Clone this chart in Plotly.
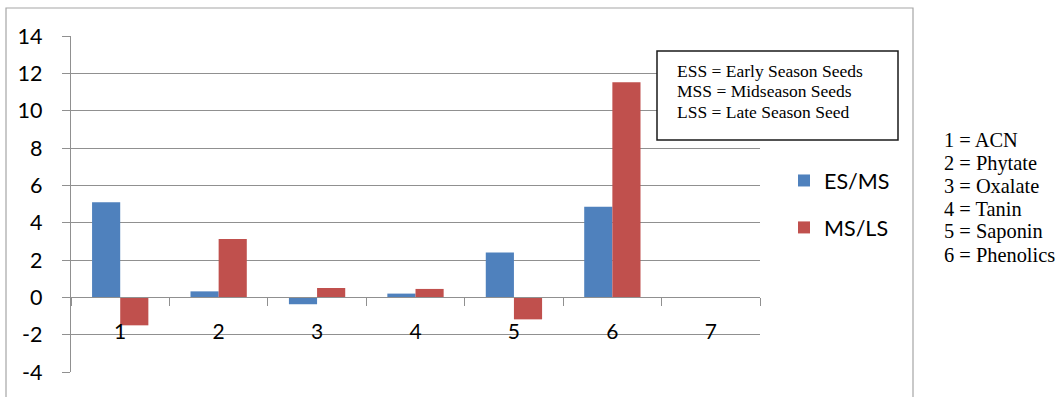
import plotly.graph_objects as go

# Ratios of anti-nutrient content between harvest seasons
categories = ["1", "2", "3", "4", "5", "6", "7"]
es_ms = [5.1, 0.32, -0.37, 0.2, 2.4, 4.85, None]
ms_ls = [-1.5, 3.12, 0.5, 0.45, -1.18, 11.52, None]
series_names = ["ES/MS", "MS/LS"]

y_min, y_max, y_step = -4, 14, 2
y_ticks = list(range(y_min, y_max + 1, y_step))
y_ticktext = [str(v) for v in y_ticks]  # plain hyphen for negatives

abbrev_lines = [
    "ESS = Early Season Seeds",
    "MSS = Midseason Seeds",
    "LSS = Late Season Seed",
]
key_lines = [
    "1 = ACN",
    "2 = Phytate",
    "3 = Oxalate",
    "4 = Tanin",
    "5 = Saponin",
    "6 = Phenolics",
]

BLUE = "#4F81BD"
RED = "#C0504D"
GRID = "#909090"
SANS = "Lato, 'Open Sans', sans-serif"
SERIF = "'Liberation Serif', 'Times New Roman', serif"

# plot-area geometry in pixels (figure is 1062 x 397)
FIG_W, FIG_H = 1062, 397
L, R, T, B = 71, 760, 36, 372
W, H = R - L, B - T


def px_x(px):
    return (px - L) / W


def px_y(py):
    return (B - py) / H


fig = go.Figure()
fig.add_trace(go.Bar(x=categories, y=es_ms, name=series_names[0],
                     marker=dict(color=BLUE, line=dict(width=0)),
                     legendgroup="a"))
fig.add_trace(go.Bar(x=categories, y=ms_ls, name=series_names[1],
                     marker=dict(color=RED, line=dict(width=0)),
                     legendgroup="b"))

shapes = [
    # outer chart frame
    dict(type="rect", xref="paper", yref="paper",
         x0=px_x(6), x1=px_x(913), y0=px_y(420), y1=px_y(8),
         line=dict(color="#a6a6a6", width=1.2), layer="below"),
    # abbreviation box
    dict(type="rect", xref="paper", yref="paper",
         x0=px_x(657), x1=px_x(898), y0=px_y(140), y1=px_y(51),
         line=dict(color="#1a1a1a", width=1.5), fillcolor="white",
         layer="above"),
]

annotations = []
for i, txt in enumerate(abbrev_lines):
    annotations.append(dict(
        text=txt, xref="paper", yref="paper", x=px_x(675),
        y=px_y(71 + 20.3 * i), xanchor="left", yanchor="middle",
        showarrow=False, font=dict(family=SERIF, size=17.5, color="black")))
for i, txt in enumerate(key_lines):
    annotations.append(dict(
        text=txt, xref="paper", yref="paper", x=px_x(942),
        y=px_y(140 + 23 * i), xanchor="left", yanchor="middle",
        showarrow=False, font=dict(family=SERIF, size=20.4, color="black")))

fig.update_layout(
    width=FIG_W, height=FIG_H,
    margin=dict(l=L, r=FIG_W - R, t=T, b=FIG_H - B, pad=0),
    paper_bgcolor="white", plot_bgcolor="white",
    barmode="group", bargap=0.428, bargroupgap=0,
    shapes=shapes, annotations=annotations,
    showlegend=True,
    legend=dict(x=px_x(784), y=px_y(160), xanchor="left", yanchor="top",
                font=dict(family=SANS, size=21.5, color="black"),
                tracegroupgap=16, bgcolor="rgba(0,0,0,0)",
                borderwidth=0),
    xaxis=dict(type="category", categoryorder="array",
               categoryarray=categories,
               anchor="free", position=(0 - y_min) / (y_max - y_min),
               tickson="boundaries", ticks="outside", ticklen=8,
               tickcolor=GRID, tickwidth=1,
               showline=True, linecolor=GRID, linewidth=1,
               showgrid=False, zeroline=False,
               ticklabelstandoff=15,
               tickfont=dict(family=SANS, size=21, color="black")),
    yaxis=dict(range=[y_min, y_max], tickmode="array",
               tickvals=y_ticks, ticktext=y_ticktext,
               showgrid=True, gridcolor=GRID, gridwidth=1,
               zeroline=False, showline=True, linecolor=GRID,
               linewidth=1.3, ticks="outside", ticklen=8,
               tickcolor=GRID, ticklabelstandoff=15,
               tickfont=dict(family=SANS, size=21.5, color="black")),
)

fig.write_html("out.html")
